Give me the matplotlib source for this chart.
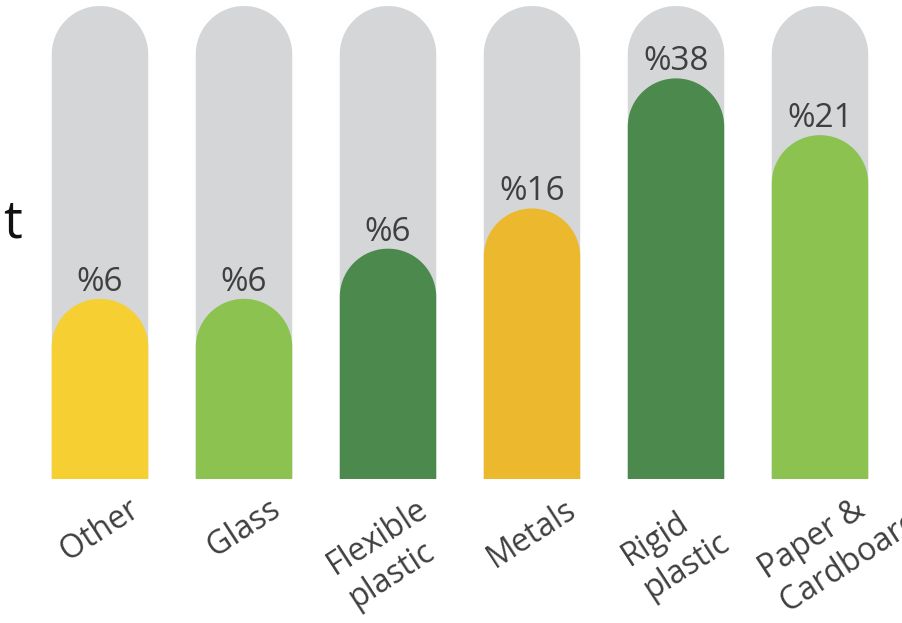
import matplotlib.pyplot as plt
from matplotlib.patches import PathPatch
from matplotlib.path import Path
from matplotlib.transforms import ScaledTranslation
import numpy as np

plt.rcParams["font.family"] = ["Open Sans", "DejaVu Sans"]

# data
categories = ["Other", "Glass", "Flexible\nplastic", "Metals", "Rigid\nplastic", "Paper &\nCardboard"]
share_labels = ["%6", "%6", "%6", "%16", "%38", "%21"]
fill_levels = [38.1, 38.1, 48.7, 57.2, 84.7, 72.7]   # fill height, track = 100
track_level = 100.0
colors = ["#f6cf33", "#8cc350", "#4b8a4c", "#ecb92e", "#4b8a4c", "#8cc350"]
TRACK = "#d5d6d7"
TEXT = "#3f3f3f"

W, H, DPI = 903, 623, 100
BAR_W = 0.67


def pill_path(xc, top, half_w, ry, n=40):
    # rectangle with a half-ellipse cap; ry in data units so the cap looks round
    verts = [(xc - half_w, 0.0), (xc - half_w, top - ry)]
    for t in np.linspace(np.pi, 0.0, n):
        verts.append((xc + half_w * np.cos(t), top - ry + ry * np.sin(t)))
    verts += [(xc + half_w, 0.0), (xc - half_w, 0.0)]
    codes = [Path.MOVETO] + [Path.LINETO] * (len(verts) - 2) + [Path.CLOSEPOLY]
    return Path(verts, codes)


fig = plt.figure(figsize=(W / DPI, H / DPI), dpi=DPI)
ax = fig.add_axes([28 / W, 144 / H, 864 / W, 473 / H])
ax.set_xlim(-0.5, len(categories) - 0.5)
ax.set_ylim(0, track_level)
for side in ax.spines.values():
    side.set_visible(False)
ax.tick_params(axis="both", length=0)
ax.set_yticks([])

# y radius of the round cap in data units
p0 = ax.transData.transform((0, 0))
p1 = ax.transData.transform((1, 1))
half_w = BAR_W / 2
ry = half_w * (p1[0] - p0[0]) / (p1[1] - p0[1])

x = np.arange(len(categories))
for xi, lvl, col, lab in zip(x, fill_levels, colors, share_labels):
    ax.add_patch(PathPatch(pill_path(xi, track_level, half_w, ry), facecolor=TRACK, edgecolor="none"))
    ax.add_patch(PathPatch(pill_path(xi, lvl, half_w, ry), facecolor=col, edgecolor="none"))
    ax.annotate(lab, xy=(xi, lvl), xytext=(0, 0), textcoords="offset points",
                ha="center", va="bottom", fontsize=24, color=TEXT)

ax.set_xticks(x, categories, rotation=33, ha="center", va="top",
              multialignment="left", linespacing=1.25,
              fontsize=23, color=TEXT)
ax.tick_params(axis="x", pad=10)

# last label sits higher and runs off the right edge, as in the source
last = ax.get_xticklabels()[-1]
last.set_transform(last.get_transform() + ScaledTranslation(0.2, 0.22, fig.dpi_scale_trans))

# cropped title fragment on the left edge
fig.text(22 / W, 1 - 238 / H, "t", ha="right", va="baseline", fontsize=38, color="#111111")

fig.savefig("out.png", dpi=DPI)
